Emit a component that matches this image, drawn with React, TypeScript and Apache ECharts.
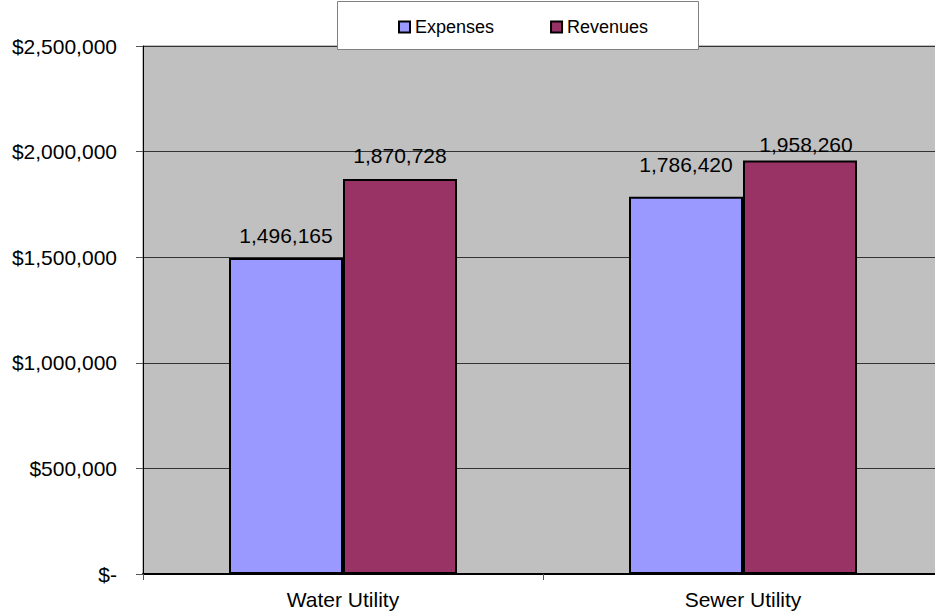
import React, { useEffect, useRef } from "react";
import * as echarts from "echarts";

const categories = ["Water Utility", "Sewer Utility"];
const expenses = [1496165, 1786420];
const revenues = [1870728, 1958260];
const yTicks = { min: 0, max: 2500000, interval: 500000 };

const fmt = (v: number) => v.toString().replace(/\B(?=(\d{3})+(?!\d))/g, ",");

export default function App() {
  const ref = useRef<HTMLDivElement>(null);
  useEffect(() => {
    if (!ref.current) return;
    const chart = echarts.init(ref.current, undefined, { renderer: "svg" });
    const font = "Liberation Sans, Arial, sans-serif";
    const expDist = [12, 22];
    const revDist = [13, 5];
    chart.setOption({
      animation: false,
      textStyle: { fontFamily: font },
      grid: {
        left: 143,
        top: 46,
        width: 800,
        height: 528,
        outerBoundsMode: "none",
        containLabel: false,
        show: true,
        backgroundColor: "#C0C0C0",
        borderColor: "#808080",
        borderWidth: 1,
      },
      legend: {
        left: 398,
        top: 18,
        padding: 0,
        icon: "rect",
        itemWidth: 11,
        itemHeight: 11,
        itemGap: 56,
        z: 20,
        textStyle: { fontSize: 18, color: "#000", fontFamily: font },
        itemStyle: { borderColor: "#000", borderWidth: 2 },
        data: ["Expenses", "Revenues"],
      },
      graphic: [
        {
          type: "rect",
          z: 10,
          shape: { x: 337.5, y: 1.5, width: 361, height: 48 },
          style: { fill: "#fff", stroke: "#808080", lineWidth: 1 },
        },
      ],
      xAxis: {
        type: "category",
        data: categories,
        axisLine: { lineStyle: { color: "#000", width: 2 } },
        axisTick: { show: true, length: 6, lineStyle: { color: "#555" } },
        axisLabel: { fontSize: 21, color: "#000", margin: 15, fontFamily: font },
        splitLine: { show: false },
      },
      yAxis: {
        type: "value",
        min: yTicks.min,
        max: yTicks.max,
        interval: yTicks.interval,
        axisLine: { show: true, lineStyle: { color: "#000", width: 1 } },
        axisTick: { show: true, length: 7, lineStyle: { color: "#555" } },
        axisLabel: {
          fontSize: 21,
          color: "#000",
          margin: 26,
          fontFamily: font,
          formatter: (v: number) => (v === 0 ? "$-" : "$" + fmt(v)),
        },
        splitLine: { show: true, lineStyle: { color: "#333", width: 1 } },
      },
      series: [
        {
          name: "Expenses",
          type: "bar",
          barWidth: 114,
          barGap: "0%",
          itemStyle: { color: "#9999FF", borderColor: "#000", borderWidth: 2 },
          data: expenses.map((v, i) => ({
            value: v,
            label: { distance: expDist[i] },
          })),
          label: {
            show: true,
            position: "top",
            fontSize: 21,
            color: "#000",
            fontFamily: font,
            formatter: (p: any) => fmt(p.value),
          },
        },
        {
          name: "Revenues",
          type: "bar",
          barWidth: 114,
          barGap: "0%",
          itemStyle: { color: "#993366", borderColor: "#000", borderWidth: 2 },
          data: revenues.map((v, i) => ({
            value: v,
            label: { distance: revDist[i], offset: [i === 1 ? 6 : 0, 0] },
          })),
          label: {
            show: true,
            position: "top",
            fontSize: 21,
            color: "#000",
            fontFamily: font,
            formatter: (p: any) => fmt(p.value),
          },
        },
      ],
    });
    return () => chart.dispose();
  }, []);
  return <div ref={ref} style={{ width: 935, height: 615, position: "absolute", left: 0, top: 0 }} />;
}
